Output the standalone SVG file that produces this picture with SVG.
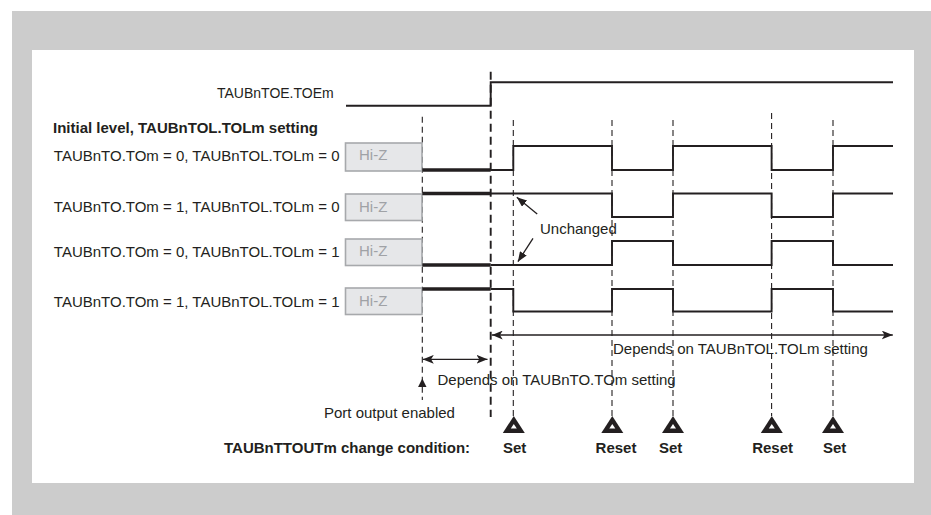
<svg xmlns="http://www.w3.org/2000/svg" width="931" height="515" viewBox="0 0 931 515">
<defs>
<style>
.t{font-family:"Liberation Sans",Arial,sans-serif;font-size:15px;fill:#231f20}
.b{font-weight:bold}
.hz{font-family:"Liberation Sans",Arial,sans-serif;font-size:15px;fill:#a0a2a6}
.box{fill:#e6e7e9;stroke:#a7a9ac;stroke-width:1.6}
.w{fill:none;stroke:#231f20;stroke-width:1.9}
.thk{fill:none;stroke:#231f20;stroke-width:3.6}
.d{fill:none;stroke:#231f20;stroke-width:1.1;stroke-dasharray:6 4}
.dt{fill:none;stroke:#231f20;stroke-width:1.9;stroke-dasharray:8 5}
.ar{fill:none;stroke:#231f20;stroke-width:1.3}
.tri{fill:#231f20}
</style>
<marker id="ah" viewBox="0 0 10 8" refX="10" refY="4" markerWidth="11" markerHeight="9" markerUnits="userSpaceOnUse" orient="auto-start-reverse">
<path d="M0,0 L10,4 L0,8 L2.5,4 z" fill="#231f20"/>
</marker>
<marker id="ahf" viewBox="0 0 10 8" refX="10" refY="4" markerWidth="10" markerHeight="8" markerUnits="userSpaceOnUse" orient="auto">
<path d="M0,0 L10,4 L0,8 z" fill="#231f20"/>
</marker>
<g id="trig">
<path d="M0,0 L11,17 L-11,17 z" class="tri"/>
<path d="M0,8 L3,12.5 L-3,12.5 z" fill="#ffffff"/>
</g>
</defs>

<rect x="12" y="11" width="919" height="504" fill="#cccccc"/>
<rect x="32" y="50" width="882" height="433" fill="#ffffff"/>

<g id="guides">
<path class="d" d="M422.3,116.7 V400"/>
<path class="dt" d="M490.7,71.7 V417"/>
<path class="d" d="M513.3,120 V416"/>
<path class="d" d="M612,120 V416"/>
<path class="d" d="M673,120 V416"/>
<path class="d" d="M771.6,113 V416"/>
<path class="d" d="M833,120 V416"/>
</g>

<g id="toe">
<text class="t" x="217" y="97.5" style="font-size:14px">TAUBnTOE.TOEm</text>
<path class="w" d="M346,105.7 H490.7 V82.3 H893"/>
</g>

<text id="initial-label" class="t b" x="53" y="133">Initial level, TAUBnTOL.TOLm setting</text>

<g id="row1">
<text class="t" x="339.5" y="160.7" text-anchor="end">TAUBnTO.TOm = 0, TAUBnTOL.TOLm = 0</text>
<rect class="box" x="345.5" y="143" width="76.5" height="28"/>
<text class="hz" x="359" y="160">Hi-Z</text>
<path class="thk" d="M422.3,170 H490.7"/>
<path class="w" d="M490.7,170 H513.3 V146 H612 V170 H673 V146 H771.6 V170 H833 V146 H893"/>
</g>

<g id="row2">
<text class="t" x="339.5" y="212" text-anchor="end">TAUBnTO.TOm = 1, TAUBnTOL.TOLm = 0</text>
<rect class="box" x="345.5" y="194" width="76.5" height="26.5"/>
<text class="hz" x="359" y="211.7">Hi-Z</text>
<path class="thk" d="M422.3,193.5 H490.7"/>
<path class="w" d="M490.7,193.5 H612 V217 H673 V193.5 H771.6 V217 H833 V193.5 H893"/>
</g>

<g id="row3">
<text class="t" x="339.5" y="256.7" text-anchor="end">TAUBnTO.TOm = 0, TAUBnTOL.TOLm = 1</text>
<rect class="box" x="345.5" y="239" width="76.5" height="26.5"/>
<text class="hz" x="359" y="256">Hi-Z</text>
<path class="thk" d="M422.3,265 H490.7"/>
<path class="w" d="M490.7,265 H612 V241 H673 V265 H771.6 V241 H833 V265 H893"/>
</g>

<g id="row4">
<text class="t" x="339.5" y="306.7" text-anchor="end">TAUBnTO.TOm = 1, TAUBnTOL.TOLm = 1</text>
<rect class="box" x="345.5" y="288" width="76.5" height="26.5"/>
<text class="hz" x="359" y="306">Hi-Z</text>
<path class="thk" d="M422.3,289 H490.7"/>
<path class="w" d="M490.7,289 H513.3 V311.5 H612 V289 H673 V311.5 H771.6 V289 H833 V311.5 H893"/>
</g>

<g id="connectors">
<path class="ar" d="M537.2,214 L516.8,197.3" marker-end="url(#ahf)"/>
<path class="ar" d="M533,238.3 L517.9,261.7" marker-end="url(#ahf)"/>
<path class="ar" d="M491.7,335 H892.8" marker-start="url(#ah)" marker-end="url(#ah)"/>
<path class="ar" d="M422.8,359.3 H487.5" marker-start="url(#ah)" marker-end="url(#ah)"/>
<path d="M422.3,378.5 L426.5,387 L418.1,387 z" fill="#231f20"/>
</g>

<g id="annotations">
<text class="t" x="540" y="234">Unchanged</text>
<text class="t" x="613" y="354">Depends on TAUBnTOL.TOLm setting</text>
<text class="t" x="437.5" y="385">Depends on TAUBnTO.TOm setting</text>
<text class="t" x="324" y="418.3">Port output enabled</text>
</g>

<g id="conditions">
<text class="t b" x="224" y="452.7">TAUBnTTOUTm change condition:</text>
<use href="#trig" x="513.8" y="416"/>
<use href="#trig" x="612.3" y="416"/>
<use href="#trig" x="673" y="416"/>
<use href="#trig" x="771.8" y="416"/>
<use href="#trig" x="833" y="416"/>
<text class="t b" x="514.7" y="452.7" text-anchor="middle">Set</text>
<text class="t b" x="616" y="452.7" text-anchor="middle">Reset</text>
<text class="t b" x="670.7" y="452.7" text-anchor="middle">Set</text>
<text class="t b" x="772.6" y="452.7" text-anchor="middle">Reset</text>
<text class="t b" x="834.6" y="452.7" text-anchor="middle">Set</text>
</g>
</svg>
